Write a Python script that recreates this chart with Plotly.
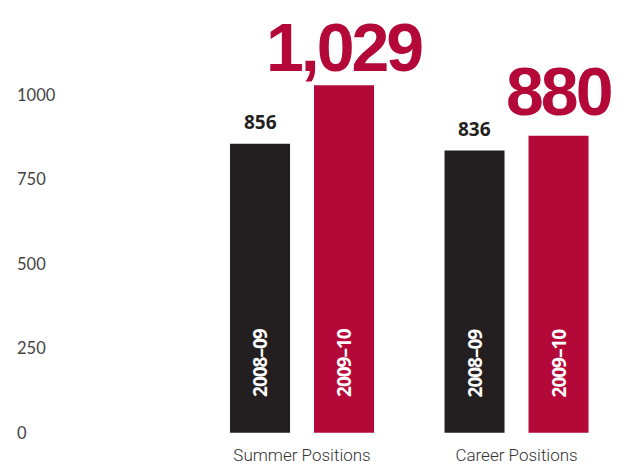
import plotly.graph_objects as go

categories = ["Summer Positions", "Career Positions"]
years = ["2008–09", "2009–10"]
values_0809 = [856, 836]
values_0910 = [1029, 880]
label_0809 = ["856", "836"]
label_0910 = ["1,029", "880"]
y_ticks = [0, 250, 500, 750, 1000]

BLACK = "#231f20"
RED = "#b30838"
COND = "Noto Sans, Open Sans, sans-serif"
BIG = "Liberation Sans, Arial, sans-serif"
BIG_SHIFT = [-2, 5]


def tight(t, px):
    return '<span style="letter-spacing:' + str(px) + 'px">' + t + '</span>'


fig = go.Figure()
fig.add_trace(go.Bar(x=categories, y=values_0809, name=years[0], marker_color=BLACK,
                     marker_line_width=0, hoverinfo="skip"))
fig.add_trace(go.Bar(x=categories, y=values_0910, name=years[1], marker_color=RED,
                     marker_line_width=0, hoverinfo="skip"))

ann = []
for i, c in enumerate(categories):
    ann.append(dict(x=c, y=values_0809[i], xref="x", yref="y", xshift=-42, yshift=22,
                    text=label_0809[i], showarrow=False, yanchor="middle",
                    font=dict(family="Open Sans, sans-serif", size=19, color=BLACK, weight="bold")))
    ann.append(dict(x=c, y=values_0910[i], xref="x", yref="y", xshift=42, yshift=BIG_SHIFT[i],
                    text=tight(label_0910[i], -3), showarrow=False, yanchor="bottom",
                    font=dict(family=BIG, size=68, color=RED, weight="bold")))
    for k, sh in enumerate([-42, 42]):
        ann.append(dict(x=c, y=207, xref="x", yref="y", xshift=sh,
                        text=tight(years[k], -1), showarrow=False, textangle=-90,
                        font=dict(family=COND, size=19, color="white", weight="bold")))

fig.update_layout(
    width=613, height=456,
    margin=dict(l=6, r=0, t=0, b=21, autoexpand=False),
    paper_bgcolor="white", plot_bgcolor="white",
    barmode="group", bargap=0.2168, bargroupgap=0.2857,
    showlegend=False,
    annotations=ann,
    xaxis=dict(type="category", range=[-1.3427, 1.487], showgrid=False, zeroline=False,
               showline=False, ticks="", automargin=False,
               tickfont=dict(family="Roboto, sans-serif", size=17, color="#333", weight=300)),
    yaxis=dict(range=[-30, 1258], tickvals=y_ticks, ticktext=[str(v) for v in y_ticks],
               ticklabelposition="inside", showgrid=False, zeroline=False, showline=False,
               automargin=False,
               tickfont=dict(family="Lato, sans-serif", size=16.5, color="#444")),
)

fig.write_html("out.html")
